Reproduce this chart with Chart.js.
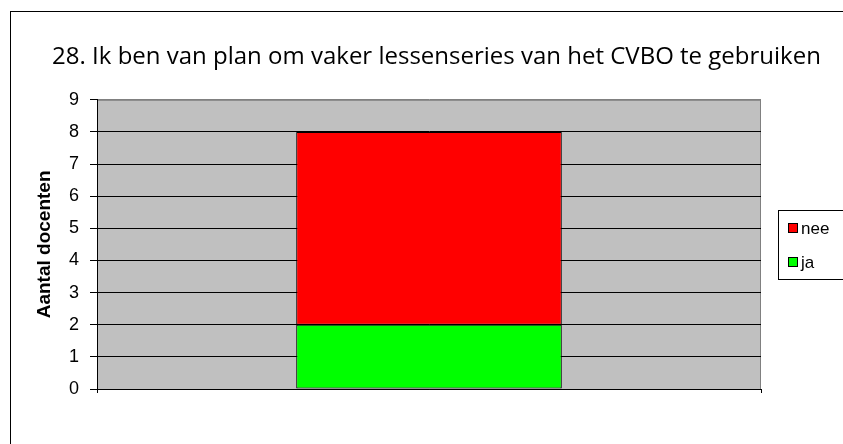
<!DOCTYPE html>
<html>
<head>
<meta charset="utf-8">
<script src="https://cdn.jsdelivr.net/npm/chart.js@4.4.0/dist/chart.umd.min.js"></script>
<style>
  html, body { margin: 0; padding: 0; background: #fff; }
  #wrap { width: 843px; height: 444px; position: relative; }
</style>
</head>
<body>
<div id="wrap"><canvas id="chart"></canvas></div>
<script>
// gegevens
const categories = [''];
const seriesNames = ['ja', 'nee'];
const jaValues = [2];
const neeValues = [6];
const yTicks = [0, 1, 2, 3, 4, 5, 6, 7, 8, 9];
const titleText = '28. Ik ben van plan om vaker lessenseries van het CVBO te gebruiken';
const yTitle = 'Aantal docenten';

// grijze achtergrond van het plotgebied + kader rond de grafiek
const plotBackground = {
    id: 'plotBackground',
    beforeDraw(chart) {
        const a = chart.chartArea;
        const ctx = chart.ctx;
        ctx.save();
        ctx.fillStyle = '#ffffff';
        ctx.fillRect(0, 0, chart.width, chart.height);
        ctx.fillStyle = '#c0c0c0';
        ctx.fillRect(a.left, a.top, a.right - a.left, a.bottom - a.top);
        ctx.strokeStyle = '#808080';
        ctx.lineWidth = 1;
        ctx.strokeRect(a.left + 0.5, a.top + 0.5, a.right - a.left - 1, a.bottom - a.top);
        // buitenkader
        ctx.strokeStyle = '#000000';
        ctx.strokeRect(10.5, 11.5, chart.width + 20, chart.height + 20);
        ctx.restore();
    }
};

// legenda met kader, rechts naast het plotgebied
const boxedLegend = {
    id: 'boxedLegend',
    afterDraw(chart) {
        const ctx = chart.ctx;
        const x = chart.chartArea.right + 17;
        const top = 210;
        ctx.save();
        ctx.strokeStyle = '#000000';
        ctx.lineWidth = 1;
        ctx.strokeRect(x + 0.5, top + 0.5, 80, 69);
        ctx.font = '17px "Liberation Sans", Arial, sans-serif';
        ctx.textBaseline = 'middle';
        const items = chart.data.datasets.slice().reverse();
        items.forEach((ds, i) => {
            const cy = top + 18 + i * 34;
            ctx.fillStyle = ds.backgroundColor;
            ctx.fillRect(x + 10, cy - 5, 10, 10);
            ctx.strokeStyle = '#000000';
            ctx.strokeRect(x + 10.5, cy - 4.5, 9, 9);
            ctx.fillStyle = '#000000';
            ctx.fillText(ds.label, x + 23, cy + 1);
        });
        ctx.restore();
    }
};

const ctx = document.getElementById('chart').getContext('2d');
new Chart(ctx, {
    type: 'bar',
    data: {
        labels: categories,
        datasets: [{
            label: seriesNames[0],
            data: jaValues,
            backgroundColor: '#00ff00',
            borderColor: '#000000',
            borderWidth: 1,
            borderSkipped: false,
            barPercentage: 0.4,
            categoryPercentage: 1
        }, {
            label: seriesNames[1],
            data: neeValues,
            backgroundColor: '#ff0000',
            borderColor: '#000000',
            borderWidth: 1,
            borderSkipped: false,
            barPercentage: 0.4,
            categoryPercentage: 1
        }]
    },
    options: {
        responsive: true,
        maintainAspectRatio: false,
        animation: false,
        layout: {
            padding: { left: 30, right: 0, top: 0, bottom: 0 }
        },
        plugins: {
            legend: { display: false },
            tooltip: { enabled: false },
            title: {
                display: true,
                text: titleText,
                color: '#000000',
                font: { family: '"Open Sans", sans-serif', size: 24, weight: 'normal' },
                padding: { top: 43, bottom: 28 }
            }
        },
        scales: {
            x: {
                stacked: true,
                offset: true,
                ticks: { display: false },
                grid: {
                    display: true,
                    offset: true,
                    drawOnChartArea: false,
                    tickLength: 4,
                    color: '#000000'
                },
                border: { display: true, color: '#000000', width: 1 },
                afterFit(scale) { scale.height = 55; }
            },
            y: {
                stacked: true,
                min: 0,
                max: 9,
                afterBuildTicks(scale) {
                    scale.ticks = yTicks.map(v => ({ value: v }));
                },
                ticks: {
                    color: '#000000',
                    padding: 11,
                    font: { family: '"Liberation Sans", Arial, sans-serif', size: 18 }
                },
                grid: {
                    color: ctx => ctx.tick && ctx.tick.value === 9 ? '#808080' : '#000000',
                    tickColor: '#000000',
                    tickLength: 7,
                    lineWidth: 1
                },
                border: { display: true, color: '#000000', width: 1 },
                title: {
                    display: true,
                    text: yTitle,
                    color: '#000000',
                    padding: { top: 3, bottom: 0 },
                    font: { family: '"Liberation Sans", Arial, sans-serif', size: 19, weight: 'bold' }
                },
                afterFit(scale) { scale.width = 67; }
            },
            yRight: {
                position: 'right',
                display: true,
                ticks: { display: false },
                grid: { display: false },
                border: { display: false },
                afterFit(scale) { scale.width = 82; }
            }
        }
    },
    plugins: [plotBackground, boxedLegend]
});
</script>
</body>
</html>
